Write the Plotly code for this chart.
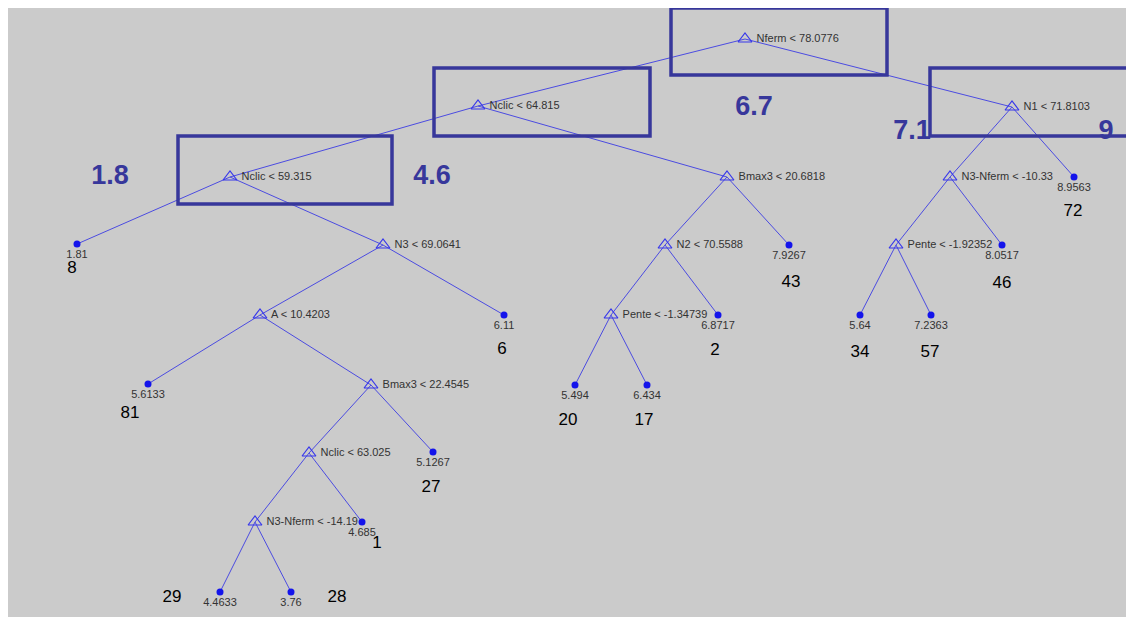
import plotly.graph_objects as go

# ---------------- data ----------------
# internal (split) nodes: id, label, parent
split_ids = ["root", "nc1", "nc2", "n3", "a", "bm3a", "nc3", "n3nf1", "bm3b", "n2", "pen1", "n1", "n3nf2", "pen2"]
split_labels = ["Nferm < 78.0776", "Nclic < 64.815", "Nclic < 59.315", "N3 < 69.0641", "A < 10.4203",
                "Bmax3 < 22.4545", "Nclic < 63.025", "N3-Nferm < -14.19", "Bmax3 < 20.6818",
                "N2 < 70.5588", "Pente < -1.34739", "N1 < 71.8103", "N3-Nferm < -10.33", "Pente < -1.92352"]
split_parents = [None, "root", "nc1", "nc2", "n3", "a", "bm3a", "nc3", "nc1", "bm3b", "n2", "root", "n1", "n3nf2"]

# leaves: id, predicted value, count, parent
leaf_ids = ["l1", "l2", "l3", "l4", "l5", "l6", "l7", "l8", "l9", "l10", "l11", "l12", "l13", "l14", "l15"]
leaf_values = ["1.81", "6.11", "5.6133", "5.1267", "4.685", "4.4633", "3.76", "7.9267", "6.8717",
               "5.494", "6.434", "8.9563", "8.0517", "5.64", "7.2363"]
leaf_counts = ["8", "6", "81", "27", "1", "29", "28", "43", "2", "20", "17", "72", "46", "34", "57"]
leaf_parents = ["nc2", "n3", "a", "bm3a", "nc3", "n3nf1", "n3nf1", "bm3b", "n2", "pen1", "pen1",
                "n1", "n3nf2", "pen2", "pen2"]

# highlighted group means
group_labels = ["6.7", "7.1", "9", "1.8", "4.6"]

# ---------------- layout (pixel positions) ----------------
split_pos = {
    "root": (745, 39), "nc1": (478, 106), "nc2": (230, 177), "n3": (383, 245), "a": (260, 315),
    "bm3a": (371, 385), "nc3": (309, 453), "n3nf1": (255, 522), "bm3b": (727, 177), "n2": (665, 245),
    "pen1": (611, 315), "n1": (1012, 107), "n3nf2": (950, 177), "pen2": (896, 245),
}
leaf_pos = {
    "l1": (77, 244), "l2": (504, 315), "l3": (148, 384), "l4": (433, 452), "l5": (362, 522),
    "l6": (220, 592), "l7": (291, 592), "l8": (789, 245), "l9": (718, 315), "l10": (575, 385),
    "l11": (647, 385), "l12": (1074, 177), "l13": (1002, 245), "l14": (860, 315), "l15": (931, 315),
}
count_pos = {
    "l1": (72, 269), "l2": (502, 350), "l3": (130, 414), "l4": (431, 488), "l5": (377, 544),
    "l6": (172, 598), "l7": (337, 598), "l8": (791, 283), "l9": (715, 351), "l10": (568, 421),
    "l11": (644, 421), "l12": (1073, 212), "l13": (1002, 284), "l14": (860, 353), "l15": (930, 353),
}
group_pos = [(754, 108), (912, 132), (1106, 132), (110, 177), (432, 177)]
boxes = [(671, 8, 887, 75), (434, 68, 650, 136), (178, 136, 392, 204), (930, 68, 1145, 136)]

EDGE = "rgb(75,75,225)"
NODE = "rgb(55,55,235)"
BOX = "rgb(55,55,155)"
OFF = 8  # page body margin in the browser

# ---------------- figure ----------------
fig = go.Figure()

# edges
ex, ey = [], []
for sid, par in zip(split_ids, split_parents):
    if par is None:
        continue
    x0, y0 = split_pos[par]; x1, y1 = split_pos[sid]
    ex += [x0, x1, None]; ey += [y0, y1, None]
for lid, par in zip(leaf_ids, leaf_parents):
    x0, y0 = split_pos[par]; x1, y1 = leaf_pos[lid]
    ex += [x0, x1, None]; ey += [y0, y1, None]
fig.add_trace(go.Scatter(x=ex, y=ey, mode="lines", line=dict(color=EDGE, width=1),
                         hoverinfo="skip", showlegend=False))

# split nodes
fig.add_trace(go.Scatter(
    x=[split_pos[s][0] for s in split_ids], y=[split_pos[s][1] for s in split_ids],
    mode="markers+text", text=[" " + t for t in split_labels], textposition="middle right",
    textfont=dict(family="Arial, Liberation Sans", size=11, color="#333333"),
    marker=dict(symbol="triangle-up-open", size=12, color=NODE, line=dict(width=1.2, color=NODE)),
    showlegend=False, hoverinfo="text"))

# leaves
fig.add_trace(go.Scatter(
    x=[leaf_pos[l][0] for l in leaf_ids], y=[leaf_pos[l][1] for l in leaf_ids],
    mode="markers+text", text=leaf_values, textposition="bottom center",
    textfont=dict(family="Arial, Liberation Sans", size=11, color="#333333"),
    marker=dict(symbol="circle", size=7, color="rgb(20,20,235)"),
    showlegend=False, hoverinfo="text"))

# counts
fig.add_trace(go.Scatter(
    x=[count_pos[l][0] for l in leaf_ids], y=[count_pos[l][1] for l in leaf_ids],
    mode="text", text=leaf_counts, textposition="middle center",
    textfont=dict(family="Arial, Liberation Sans", size=17, color="#000000"),
    showlegend=False, hoverinfo="skip"))

# group labels
fig.add_trace(go.Scatter(
    x=[p[0] for p in group_pos], y=[p[1] for p in group_pos],
    mode="text", text=["<b>%s</b>" % g for g in group_labels], textposition="middle center",
    textfont=dict(family="Arial, Liberation Sans", size=27, color=BOX),
    showlegend=False, hoverinfo="skip"))

shapes = [dict(type="rect", xref="x", yref="y", x0=6, y0=8, x1=1140, y1=617,
               fillcolor="#cbcbcb", line=dict(width=0), layer="below")]
for (x0, y0, x1, y1) in boxes:
    shapes.append(dict(type="rect", xref="x", yref="y", x0=x0, y0=y0, x1=x1, y1=y1,
                       line=dict(color=BOX, width=3.5), fillcolor="rgba(0,0,0,0)", layer="above"))

fig.update_layout(
    width=1134 - OFF, height=619 - OFF, margin=dict(l=0, r=0, t=0, b=0),
    paper_bgcolor="white", plot_bgcolor="white",
    xaxis=dict(range=[OFF, 1134], visible=False, fixedrange=True),
    yaxis=dict(range=[619, OFF], visible=False, fixedrange=True),
    shapes=shapes,
)

fig.write_html("out.html")
